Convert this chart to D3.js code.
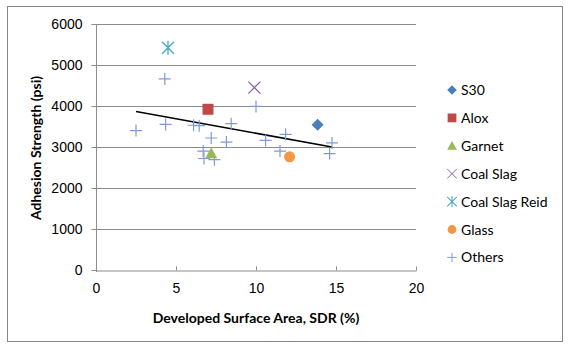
<!DOCTYPE html>
<html>
<head>
<meta charset="utf-8">
<script src="https://cdn.jsdelivr.net/npm/d3@7"></script>
<style>
  body { margin: 0; background: #fff; }
  svg { font-family: Lato, "Open Sans", sans-serif; }
</style>
</head>
<body>
<svg width="573" height="350"></svg>
<script>
// one point per named product
const s30 = [[13.85, 3545]];
const alox = [[7.0, 3920]];
const garnet = [[7.2, 2850]];
const coalSlag = [[9.9, 4450]];
const coalSlagReid = [[4.5, 5420]];
const glass = [[12.1, 2760]];
const others = [
    [4.3, 4660], [2.5, 3400], [4.35, 3550], [6.1, 3530], [6.45, 3520],
    [8.45, 3570], [7.2, 3220], [8.15, 3120], [6.7, 2900], [6.75, 2720],
    [7.4, 2690], [10.0, 3990], [10.6, 3160], [11.85, 3310], [11.5, 2900],
    [14.75, 3100], [14.6, 2840]
];
const xTicks = [0, 5, 10, 15, 20];
const yTicks = [0, 1000, 2000, 3000, 4000, 5000, 6000];

const series = [
    { name: "S30", data: s30, shape: "diamond", color: "#4a7ebb" },
    { name: "Alox", data: alox, shape: "square", color: "#be4b48" },
    { name: "Garnet", data: garnet, shape: "triangle", color: "#98b954" },
    { name: "Coal Slag", data: coalSlag, shape: "x", color: "#7d60a0" },
    { name: "Coal Slag Reid", data: coalSlagReid, shape: "star", color: "#46aac5" },
    { name: "Glass", data: glass, shape: "circle", color: "#f39646" },
    { name: "Others", data: others, shape: "plus", color: "#7f9ad6" }
];

const svg = d3.select("svg");

svg.append("rect")
    .attr("x", 7.5).attr("y", 6.5)
    .attr("width", 555).attr("height", 335)
    .attr("fill", "#fff")
    .attr("stroke", "#868686");

const x = d3.scaleLinear().domain([0, 20]).range([96, 416]);
const y = d3.scaleLinear().domain([0, 6000]).range([270, 24]);

// gridlines
svg.append("g")
    .selectAll("line")
    .data(yTicks.slice(1))
    .join("line")
    .attr("x1", x(0)).attr("x2", x(20))
    .attr("y1", d => Math.round(y(d)) + 0.5)
    .attr("y2", d => Math.round(y(d)) + 0.5)
    .attr("stroke", "#8c8c8c");

const xAxis = svg.append("g")
    .attr("transform", "translate(0," + (Math.round(y(0)) + 0.5) + ")")
    .call(d3.axisBottom(x).tickValues(xTicks).tickFormat(d3.format("d"))
        .tickSizeInner(-4).tickSizeOuter(0).tickPadding(13));

const yAxis = svg.append("g")
    .attr("transform", "translate(" + (Math.round(x(0)) + 0.5) + ",0)")
    .call(d3.axisLeft(y).tickValues(yTicks).tickFormat(d3.format("d"))
        .tickSize(5).tickPadding(9));

[xAxis, yAxis].forEach(a => {
    a.select(".domain").attr("stroke", "#8c8c8c");
    a.selectAll(".tick line").attr("stroke", "#8c8c8c");
    a.selectAll("text").attr("fill", "#000").attr("font-size", "14px");
});
yAxis.select(".domain").attr("d", "M0,24V272");

// titles
svg.append("text")
    .attr("x", 256).attr("y", 323)
    .attr("text-anchor", "middle")
    .attr("font-size", "14px").attr("font-weight", "bold")
    .text("Developed Surface Area, SDR (%)");

svg.append("text")
    .attr("transform", "translate(41,148) rotate(-90)")
    .attr("text-anchor", "middle")
    .attr("font-size", "14px").attr("font-weight", "bold")
    .text("Adhesion Strength (psi)");

// linear trendline over all points
const all = series.flatMap(s => s.data);
const mx = d3.mean(all, d => d[0]);
const my = d3.mean(all, d => d[1]);
const slope = d3.sum(all, d => (d[0] - mx) * (d[1] - my)) / d3.sum(all, d => (d[0] - mx) ** 2);
const xr = d3.extent(all, d => d[0]);
svg.append("path")
    .datum(xr.map(v => [v, my + slope * (v - mx)]))
    .attr("fill", "none")
    .attr("stroke", "#000")
    .attr("stroke-width", 1.5)
    .attr("d", d3.line().x(d => x(d[0])).y(d => y(d[1])));

function drawMarker(g, shape, color) {
    if (shape === "diamond") {
        g.append("path").attr("d", "M0,-6L6,0L0,6L-6,0Z").attr("fill", color);
    } else if (shape === "square") {
        g.append("rect").attr("x", -5.5).attr("y", -5.5).attr("width", 11).attr("height", 11).attr("fill", color);
    } else if (shape === "triangle") {
        g.append("path").attr("d", "M0,-6L6,5L-6,5Z").attr("fill", color);
    } else if (shape === "circle") {
        g.append("circle").attr("r", 5.5).attr("fill", color);
    } else if (shape === "x") {
        g.append("path").attr("d", "M-6,-6L6,6M-6,6L6,-6").attr("stroke", color).attr("stroke-width", 1.2);
    } else if (shape === "star") {
        g.append("path").attr("d", "M-6,-6L6,6M-6,6L6,-6M0,-7V7").attr("stroke", color).attr("stroke-width", 1.3);
    } else if (shape === "plus") {
        g.append("path").attr("d", "M-6,0H6M0,-6V6").attr("stroke", color).attr("stroke-width", 1.2);
    }
}

// markers, others first so the named series stay on top
series.slice().reverse().forEach(s => {
    s.data.forEach(d => {
        const g = svg.append("g").attr("transform", "translate(" + x(d[0]) + "," + y(d[1]) + ")");
        drawMarker(g, s.shape, s.color);
    });
});

// legend
const legend = svg.append("g");
series.forEach((s, i) => {
    const ly = 90 + i * 27.9;
    const g = legend.append("g").attr("transform", "translate(452," + ly + ")");
    drawMarker(g.append("g").attr("transform", "scale(0.8)"), s.shape, s.color);
    g.append("text")
        .attr("x", 9).attr("y", 5)
        .attr("font-size", "14px")
        .text(s.name);
});
</script>
</body>
</html>
